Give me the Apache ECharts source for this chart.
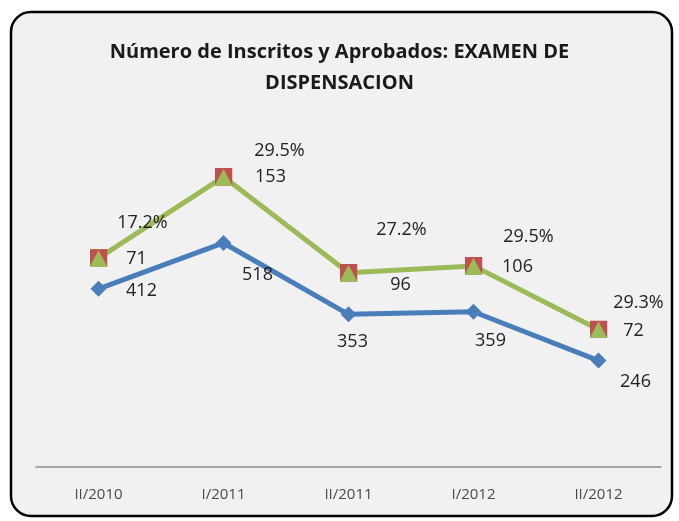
<!DOCTYPE html>
<html>
<head>
<meta charset="utf-8">
<script src="https://cdn.jsdelivr.net/npm/echarts@6/dist/echarts.min.js"></script>
<style>
html,body{margin:0;padding:0;background:#fff}
#main{width:679px;height:521px}
</style>
</head>
<body>
<div id="main"></div>
<script>
// datos
const periodos = ['II/2010', 'I/2011', 'II/2011', 'I/2012', 'II/2012']
const inscritos = [412, 518, 353, 359, 246]
const aprobados = [71, 153, 96, 106, 72]
const porcentajes = ['17.2%', '29.5%', '27.2%', '29.5%', '29.3%']

// desplazamiento de etiquetas (como en el excel, puestas a mano)
const offInscritos = [[43, 2], [34, 32], [4, 28], [17, 29], [37, 21]]
const offAprobados = [[38, 1], [47, 0], [52, 12], [44, 1], [35, 1]]
const offPorc = [[44, -35], [56, -26], [53, -43], [55, -29], [40, -27]]

const FONT = 'Open Sans'
const marker = 'image://data:image/svg+xml;utf8,' + encodeURIComponent(
"<svg xmlns='http://www.w3.org/2000/svg' width='16' height='16'><rect width='16' height='16' fill='#c0504d'/><polygon points='8,1 16,16 0,16' fill='#9bbb59'/></svg>")

const totales = inscritos.map((v, i) => v + aprobados[i])

let chart = echarts.init(document.getElementById('main'))
chart.setOption({
  animation: false,
  graphic: [{
    type: 'rect', z: -10,
    shape: {x: 11, y: 12, width: 661, height: 504, r: 20},
    style: {fill: '#f1f1f1', stroke: '#000', lineWidth: 2.5}
  }],
  title: {
    text: 'Número de Inscritos y Aprobados: EXAMEN DE\nDISPENSACION',
    left: 'center', top: 32,
    textStyle: {fontFamily: FONT, fontSize: 20, fontWeight: 'bold', color: '#1a1a1a', lineHeight: 31}
  },
  grid: {left: 36, right: 18, top: 121, bottom: 54},
  xAxis: {
    type: 'category', data: periodos, boundaryGap: true,
    axisLine: {lineStyle: {color: '#8c8c8c', width: 1.5}},
    axisTick: {show: false},
    axisLabel: {fontFamily: FONT, fontSize: 15, color: '#4a4a4a', margin: 20}
  },
  yAxis: {
    type: 'value', min: 0, max: 800, show: false,
    splitLine: {show: false}
  },
  series: [{
    name: 'Inscritos', type: 'line', stack: 'total',
    data: inscritos.map((v, i) => ({value: v, label: {offset: offInscritos[i]}})),
    lineStyle: {color: '#4a7ebb', width: 5},
    itemStyle: {color: '#4a7ebb'},
    symbol: 'diamond', symbolSize: 16,
    label: {show: true, position: 'inside', fontFamily: FONT, fontSize: 18, color: '#222'}
  }, {
    name: 'Aprobados', type: 'line', stack: 'total',
    data: aprobados.map((v, i) => ({value: v, label: {offset: offAprobados[i]}})),
    lineStyle: {color: '#9bbb59', width: 5},
    itemStyle: {color: '#9bbb59'},
    symbol: marker, symbolSize: 18,
    label: {show: true, position: 'inside', fontFamily: FONT, fontSize: 18, color: '#222'}
  }, {
    name: 'Porcentaje', type: 'scatter', z: 5, silent: true,
    data: totales.map((v, i) => ({value: v, label: {offset: offPorc[i]}})),
    symbolSize: 2,
    itemStyle: {color: 'rgba(0,0,0,0)', opacity: 1},
    label: {
      show: true, position: 'inside', fontFamily: FONT, fontSize: 18, color: '#222', opacity: 1,
      formatter: p => porcentajes[p.dataIndex]
    }
  }]
})
</script>
</body>
</html>
